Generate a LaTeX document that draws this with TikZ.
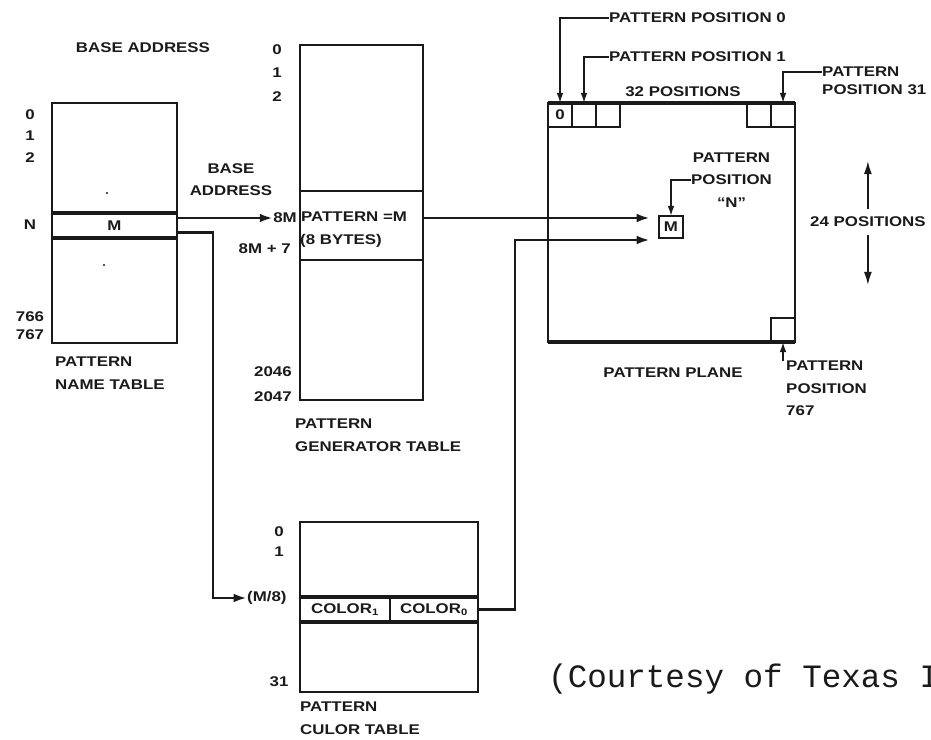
\documentclass[tikz,border=0pt]{standalone}
\usepackage{fontspec}
\setmainfont[FakeStretch=1.2]{Liberation Sans}
\newfontfamily\courfont{Liberation Mono}
\usetikzlibrary{arrows.meta,positioning}
\definecolor{ink}{HTML}{1A1A1A}

\tikzset{
  lbl/.style={font=\fontsize{12}{19}\selectfont\bfseries, text=ink, inner sep=0pt},
  idx/.style={lbl},
  tablebox/.style={draw=ink, line width=2pt, inner sep=0pt, outer sep=0pt, anchor=north west},
  rowband/.style={lbl, outer sep=0pt, anchor=north west},
  bandline/.style={ink, line width=3pt},
  cell/.style={lbl, draw=ink, line width=1.5pt, outer sep=0pt, minimum width=0.72cm, minimum height=0.72cm},
  conn/.style={ink, line width=2.4pt, -{Latex[length=4mm,width=2.6mm]}},
  ptr/.style={ink, line width=1.5pt, -{Latex[length=3mm,width=2mm]}},
  dimarrow/.style={ink, line width=1.5pt, -{Latex[length=4mm,width=2.4mm]}},
}

\begin{document}
\begin{tikzpicture}[x=0.03cm,y=-0.03cm]
  \useasboundingbox (0,0) rectangle (931,740);
  \clip (0,0) rectangle (931,740);

  % pattern name table
  \node[lbl] (base1) at (143,48) {BASE ADDRESS};
  \node[tablebox, minimum width=3.75cm, minimum height=7.2cm] (ntab) at (52,103) {};
  \node[rowband, minimum width=3.75cm, minimum height=0.75cm] (nrow) at (52,213) {M};
  \draw[bandline] (nrow.north west) -- (nrow.north east) (nrow.south west) -- (nrow.south east);
  \fill[ink] (107,193) circle (1pt) (104,265) circle (1pt);
  \foreach \t/\y in {0/115,1/136,2/158,N/225,766/317,767/335}
    \node[idx] (n\t) at (30,\y) {\t};
  \node[lbl, anchor=north west, align=left] (ntabname) at (55,357) {PATTERN\\NAME TABLE};

  % pattern generator table
  \node[tablebox, minimum width=3.69cm, minimum height=10.65cm] (gtab) at (300,45) {};
  \node[rowband, minimum width=3.69cm, minimum height=2.07cm] (grow) at (300,191) {};
  \draw[ink, line width=2pt] (grow.north west) -- (grow.north east) (grow.south west) -- (grow.south east);
  \node[lbl, anchor=west] (gpat) at (301,217) {PATTERN =M};
  \node[lbl, anchor=west] (gbyte) at (300,241) {(8 BYTES)};
  \foreach \t/\y in {0/50,1/73,2/97}
    \node[idx] (g\t) at (277,\y) {\t};
  \node[idx, anchor=east] (g2046) at (292,372) {2046};
  \node[idx, anchor=east] (g2047) at (292,397) {2047};
  \node[idx, anchor=east] (g8m) at (297,218) {8M};
  \node[idx, anchor=east] (g8m7) at (291,249) {8M + 7};
  \node[lbl, align=center] (base2) at (231,180) {BASE\\ADDRESS};
  \node[lbl, anchor=north west, align=left] (gtabname) at (295,419) {PATTERN\\GENERATOR TABLE};

  % pattern color table
  \node[tablebox, minimum width=5.34cm, minimum height=5.1cm] (ctab) at (300,522) {};
  \node[rowband, minimum width=2.7cm, minimum height=0.75cm] (col1) at (300,597) {COLOR\textsubscript{1}};
  \node[rowband, minimum width=2.64cm, minimum height=0.75cm, right=0pt of col1] (col0) {COLOR\textsubscript{0}};
  \draw[bandline] (col1.north west) -- (col0.north east) (col1.south west) -- (col0.south east);
  \draw[ink, line width=1pt] (col1.north east) -- (col1.south east);
  \foreach \t/\y in {0/532,1/552,31/682}
    \node[idx] (k\t) at (279,\y) {\t};
  \node[idx, anchor=west] (km8) at (247,598) {(M/8)};
  \node[lbl, anchor=north west, align=left] (ctabname) at (300,702) {PATTERN\\CULOR TABLE};

  % pattern plane
  \node[tablebox, minimum width=7.41cm, minimum height=7.17cm] (plane) at (548,103) {};
  \draw[bandline] (plane.north west) -- (plane.north east) (plane.south west) -- (plane.south east);
  \node[cell, anchor=north west] (c0) at (548,103) {0};
  \node[cell, right=0pt of c0] (c1) {};
  \node[cell, right=0pt of c1] (c2) {};
  \node[cell, anchor=north east] (c31) at (795,103) {};
  \node[cell, left=0pt of c31] (c30) {};
  \node[cell, anchor=south east] (c767) at (795,342) {};
  \node[cell, minimum height=0.66cm] (mcell) at (671,227) {M};
  \node[lbl] (p32) at (683,92) {32 POSITIONS};
  \node[lbl, anchor=west] (lp0) at (609,18) {PATTERN POSITION 0};
  \node[lbl, anchor=west] (lp1) at (609,57) {PATTERN POSITION 1};
  \node[lbl, anchor=west] (lp31a) at (822,72) {PATTERN};
  \node[lbl, anchor=west] (lp31b) at (822,90) {POSITION 31};
  \node[lbl, align=center, anchor=west] (lpn) at (691,180) {PATTERN\\POSITION\\``N''};
  \node[lbl, anchor=west] (l24) at (810,222) {24 POSITIONS};
  \node[lbl] (planename) at (673,373) {PATTERN PLANE};
  \node[lbl, anchor=north west, align=left] (lp767) at (786,361) {PATTERN\\POSITION\\767};
  \coordinate (pin1) at (650,218);
  \coordinate (pin2) at (650,240);

  % connectors
  \draw[conn] (nrow.east |- g8m) -- (g8m.west);
  \draw[conn] ([yshift=-0.2cm]nrow.east) -- ++(36,0) |- (km8.west);
  \draw[conn] (grow.east |- pin1) -- (pin1);
  \draw[conn] (col0.east) -- ++(37,0) |- (pin2);

  \draw[ptr] (lp0.west) -| (c0.north);
  \draw[ptr] (lp1.west) -| (c1.north);
  \draw[ptr] (lp31a.west) -| (c31.north);
  \draw[ptr] (lpn.west) -| (mcell.north);
  \draw[ptr] (c767.south |- lp767.north) -- (c767.south);
  \draw[dimarrow, shorten <=0.24cm] (l24.north) -- ++(0,-56);
  \draw[dimarrow, shorten <=0.24cm] (l24.south) -- ++(0,58);

  \node[font=\courfont\fontsize{27.8}{30}\selectfont, text=ink, anchor=base west, inner sep=0pt] (court) at (548,687) {(Courtesy of Texas I};
\end{tikzpicture}
\end{document}
